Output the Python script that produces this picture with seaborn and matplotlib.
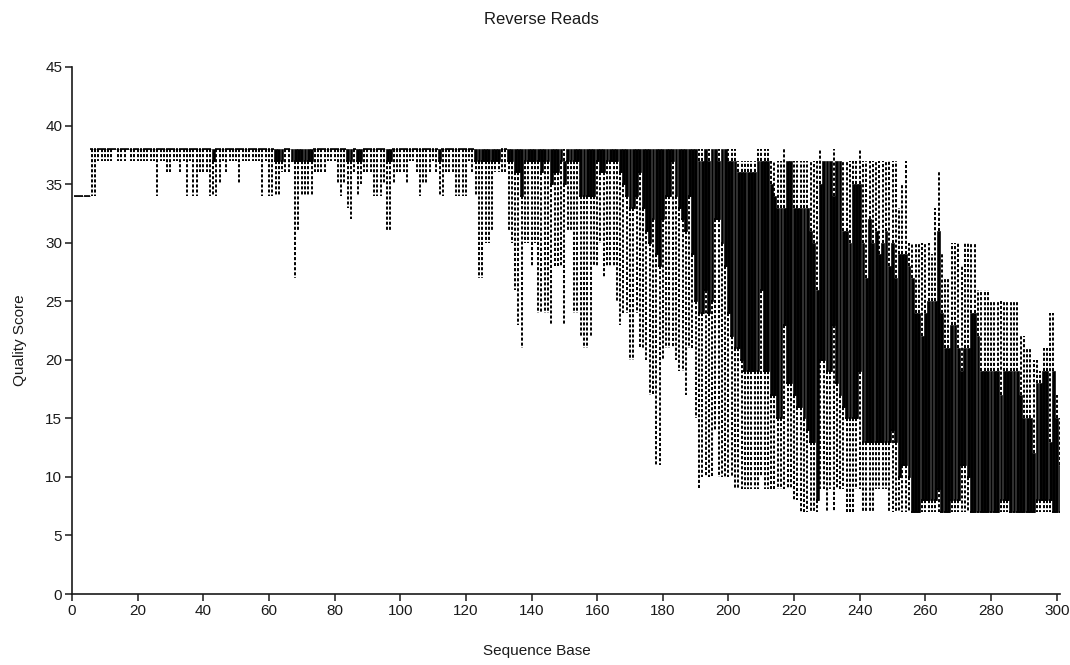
import numpy as np
import pandas as pd
import matplotlib
matplotlib.use("Agg")
import matplotlib.pyplot as plt
import seaborn as sns

# ---------------- data ----------------
positions = list(range(1, 302))

lower_whisker = [
    34, 34, 34, 34, 34, 34, 34, 37, 37, 37,
    37, 37, 38, 37, 37, 37, 38, 37, 37, 37,
    37, 37, 37, 37, 37, 34, 37, 37, 36, 36,
    37, 37, 36, 37, 34, 37, 34, 34, 36, 36,
    36, 34, 34, 34, 35, 37, 36, 37, 37, 37,
    35, 37, 37, 37, 37, 37, 37, 34, 37, 34,
    34, 34, 34, 36, 36, 36, 37, 27, 31, 34,
    34, 34, 34, 36, 36, 36, 36, 37, 37, 37,
    35, 34, 35, 33, 32, 36, 34, 35, 36, 36,
    36, 34, 34, 34, 35, 31, 31, 35, 36, 36,
    36, 35, 37, 37, 36, 34, 35, 35, 36, 37,
    36, 34, 34, 36, 36, 36, 34, 34, 34, 34,
    37, 36, 34, 27, 27, 30, 30, 31, 36, 36,
    36, 36, 31, 30, 26, 23, 21, 30, 30, 28,
    30, 24, 24, 24, 24, 23, 28, 28, 28, 23,
    31, 31, 24, 24, 22, 21, 21, 22, 28, 28,
    30, 27, 28, 28, 28, 25, 23, 24, 24, 20,
    20, 24, 21, 21, 20, 17, 17, 11, 11, 20,
    21, 21, 21, 20, 19, 19, 17, 21, 21, 15,
    9, 10, 10, 10, 10, 14, 10, 10, 10, 10,
    10, 9, 9, 9, 9, 9, 9, 9, 9, 10,
    9, 9, 9, 9, 9, 9, 9, 9, 9, 8,
    8, 7, 7, 7, 7, 7, 7, 9, 9, 7,
    9, 7, 9, 9, 9, 7, 7, 7, 9, 9,
    7, 7, 7, 7, 9, 9, 9, 9, 7, 7,
    7, 7, 7, 7, 7, 7, 7, 7, 7, 7,
    7, 7, 7, 7, 7, 7, 7, 7, 7, 7,
    7, 7, 7, 7, 7, 7, 7, 7, 7, 7,
    7, 7, 7, 7, 7, 7, 7, 7, 7, 7,
    7, 7, 7, 7, 7, 7, 7, 7, 7, 7,
    7,
]

lower_quartile = [
    34, 34, 34, 34, 34, 38, 38, 38, 38, 38,
    38, 38, 38, 38, 38, 38, 38, 38, 38, 38,
    38, 38, 38, 38, 38, 38, 38, 38, 38, 38,
    38, 38, 38, 38, 38, 38, 38, 38, 38, 38,
    38, 38, 37, 38, 38, 38, 38, 38, 38, 38,
    38, 38, 38, 38, 38, 38, 38, 38, 38, 38,
    38, 37, 37, 37, 38, 38, 37, 37, 37, 37,
    37, 37, 37, 38, 38, 38, 38, 38, 38, 38,
    38, 38, 38, 37, 37, 38, 37, 37, 38, 38,
    38, 38, 38, 38, 38, 37, 37, 38, 38, 38,
    38, 38, 38, 38, 38, 38, 38, 38, 38, 38,
    38, 37, 38, 38, 38, 38, 38, 38, 38, 38,
    38, 38, 37, 37, 37, 37, 37, 37, 37, 37,
    38, 38, 37, 37, 36, 36, 34, 37, 37, 37,
    37, 37, 36, 37, 37, 35, 36, 36, 37, 35,
    37, 37, 37, 37, 34, 34, 34, 34, 34, 37,
    36, 36, 37, 37, 37, 37, 36, 35, 34, 33,
    33, 34, 36, 33, 31, 30, 32, 29, 28, 32,
    34, 34, 37, 34, 33, 32, 31, 34, 29, 25,
    24, 24, 26, 24, 25, 32, 32, 30, 28, 24,
    22, 21, 21, 20, 19, 19, 19, 19, 19, 26,
    19, 19, 17, 17, 15, 15, 23, 18, 18, 17,
    16, 16, 15, 14, 13, 13, 8, 20, 20, 19,
    19, 23, 18, 17, 16, 15, 15, 15, 15, 19,
    13, 13, 13, 13, 13, 13, 13, 13, 13, 14,
    13, 10, 11, 11, 10, 7, 7, 7, 8, 8,
    8, 8, 8, 9, 7, 7, 7, 8, 8, 8,
    11, 11, 10, 7, 7, 7, 7, 7, 7, 7,
    7, 7, 8, 8, 8, 7, 7, 7, 7, 7,
    7, 7, 7, 8, 8, 8, 8, 8, 7, 7,
    7,
]

upper_quartile = [
    34, 34, 34, 34, 34, 38, 38, 38, 38, 38,
    38, 38, 38, 38, 38, 38, 38, 38, 38, 38,
    38, 38, 38, 38, 38, 38, 38, 38, 38, 38,
    38, 38, 38, 38, 38, 38, 38, 38, 38, 38,
    38, 38, 38, 38, 38, 38, 38, 38, 38, 38,
    38, 38, 38, 38, 38, 38, 38, 38, 38, 38,
    38, 38, 38, 38, 38, 38, 38, 38, 38, 38,
    38, 38, 38, 38, 38, 38, 38, 38, 38, 38,
    38, 38, 38, 38, 38, 38, 38, 38, 38, 38,
    38, 38, 38, 38, 38, 38, 38, 38, 38, 38,
    38, 38, 38, 38, 38, 38, 38, 38, 38, 38,
    38, 38, 38, 38, 38, 38, 38, 38, 38, 38,
    38, 38, 38, 38, 38, 38, 38, 38, 38, 38,
    38, 38, 38, 38, 38, 38, 38, 38, 38, 38,
    38, 38, 38, 38, 38, 38, 38, 38, 38, 37,
    38, 38, 38, 38, 38, 38, 38, 38, 38, 38,
    38, 38, 38, 38, 38, 38, 38, 38, 38, 38,
    38, 38, 38, 38, 38, 38, 38, 38, 38, 38,
    38, 38, 38, 38, 38, 38, 38, 38, 38, 38,
    37, 37, 38, 37, 38, 38, 37, 38, 38, 37,
    37, 37, 36, 36, 36, 36, 36, 36, 37, 37,
    37, 37, 35, 34, 33, 33, 33, 37, 37, 33,
    33, 33, 33, 33, 31, 30, 26, 35, 37, 37,
    37, 34, 37, 37, 31, 31, 30, 35, 35, 35,
    30, 27, 32, 30, 31, 29, 30, 31, 28, 30,
    27, 29, 29, 29, 28, 27, 24, 24, 22, 24,
    25, 25, 25, 31, 24, 21, 21, 23, 23, 21,
    19, 21, 21, 24, 24, 22, 19, 19, 19, 19,
    19, 19, 17, 19, 19, 19, 19, 19, 17, 15,
    15, 15, 12, 18, 18, 19, 19, 13, 19, 15,
    11,
]

upper_whisker = [
    34, 34, 34, 34, 34, 38, 38, 38, 38, 38,
    38, 38, 38, 38, 38, 38, 38, 38, 38, 38,
    38, 38, 38, 38, 38, 38, 38, 38, 38, 38,
    38, 38, 38, 38, 38, 38, 38, 38, 38, 38,
    38, 38, 38, 38, 38, 38, 38, 38, 38, 38,
    38, 38, 38, 38, 38, 38, 38, 38, 38, 38,
    38, 38, 38, 38, 38, 38, 38, 38, 38, 38,
    38, 38, 38, 38, 38, 38, 38, 38, 38, 38,
    38, 38, 38, 38, 38, 38, 38, 38, 38, 38,
    38, 38, 38, 38, 38, 38, 38, 38, 38, 38,
    38, 38, 38, 38, 38, 38, 38, 38, 38, 38,
    38, 38, 38, 38, 38, 38, 38, 38, 38, 38,
    38, 38, 38, 38, 38, 38, 38, 38, 38, 38,
    38, 38, 38, 38, 38, 38, 38, 38, 38, 38,
    38, 38, 38, 38, 38, 38, 38, 38, 38, 38,
    38, 38, 38, 38, 38, 38, 38, 38, 38, 38,
    38, 38, 38, 38, 38, 38, 38, 38, 38, 38,
    38, 38, 38, 38, 38, 38, 38, 38, 38, 38,
    38, 38, 38, 38, 38, 38, 38, 38, 38, 38,
    38, 38, 38, 38, 38, 38, 38, 38, 38, 38,
    38, 38, 37, 37, 37, 37, 37, 37, 38, 38,
    38, 38, 37, 37, 37, 37, 38, 37, 37, 37,
    37, 37, 37, 37, 37, 37, 37, 38, 37, 37,
    37, 38, 37, 37, 37, 37, 37, 37, 37, 38,
    37, 37, 37, 37, 37, 37, 37, 37, 37, 37,
    37, 33, 35, 37, 30, 30, 30, 30, 30, 30,
    30, 29, 33, 36, 29, 27, 27, 30, 30, 30,
    28, 30, 30, 30, 30, 26, 26, 26, 26, 25,
    25, 25, 25, 25, 25, 25, 25, 25, 22, 22,
    21, 21, 20, 20, 19, 21, 21, 24, 24, 17,
    15,
]

# medians are hidden inside the black boxes; drawn at the lower hinge
median_score = lower_quartile

x_ticks = [0, 20, 40, 60, 80, 100, 120, 140, 160, 180, 200, 220, 240, 260, 280, 300]
y_ticks = [0, 5, 10, 15, 20, 25, 30, 35, 40, 45]

for name, arr in [("lower_whisker", lower_whisker), ("lower_quartile", lower_quartile),
                  ("upper_quartile", upper_quartile), ("upper_whisker", upper_whisker)]:
    assert len(arr) == len(positions), (name, len(arr))

# long-form table: five summary values per base so the box stats reproduce them
stats = np.column_stack([lower_whisker, lower_quartile, median_score,
                         upper_quartile, upper_whisker])
df = pd.DataFrame({
    "Sequence Base": np.repeat(positions, 5),
    "Quality Score": stats.ravel().astype(float),
})

# ---------------- figure ----------------
sns.set_style("ticks")
plt.rcParams["font.family"] = ["Liberation Sans", "DejaVu Sans"]

W, H = 1070, 665
fig = plt.figure(figsize=(W / 100, H / 100), dpi=100)
ax = fig.add_axes([72 / W, 71 / H, (1060 - 72) / W, (594 - 67) / H])

sns.boxplot(
    data=df, x="Sequence Base", y="Quality Score", orient="x",
    native_scale=True, whis=(0, 100), width=0.86,
    color="black", linecolor="black", linewidth=0.45, saturation=1,
    showcaps=False, showfliers=False,
    whiskerprops=dict(linestyle=(0, (1.6, 1.0)), linewidth=1.4),
    medianprops=dict(linewidth=1.2),
    ax=ax,
)

ax.set_xlim(0, 301)
ax.set_ylim(0, 45)
ax.set_xticks(x_ticks)
ax.set_xticklabels([str(t) for t in x_ticks])
ax.set_yticks(y_ticks)
ax.set_yticklabels([str(t) for t in y_ticks])
ax.set_xlabel("")
ax.set_ylabel("")
ax.grid(False)
sns.despine(ax=ax)
for s in ("left", "bottom"):
    ax.spines[s].set_linewidth(1.2)
    ax.spines[s].set_color("#1a1a1a")
ax.tick_params(axis="both", direction="out", length=5, width=1.1,
               colors="#1a1a1a", labelsize=11, labelcolor="#1a1a1a", pad=2)

fig.text(541 / W, 1 - 20 / H, "Reverse Reads", ha="center", va="center",
         fontsize=12, color="#1a1a1a")
fig.text(537 / W, 1 - 651 / H, "Sequence Base", ha="center", va="center",
         fontsize=11, color="#1a1a1a")
fig.text(20 / W, 1 - 340 / H, "Quality Score", ha="center", va="center",
         rotation=90, fontsize=11, color="#1a1a1a")

fig.savefig("out.png", dpi=100)
